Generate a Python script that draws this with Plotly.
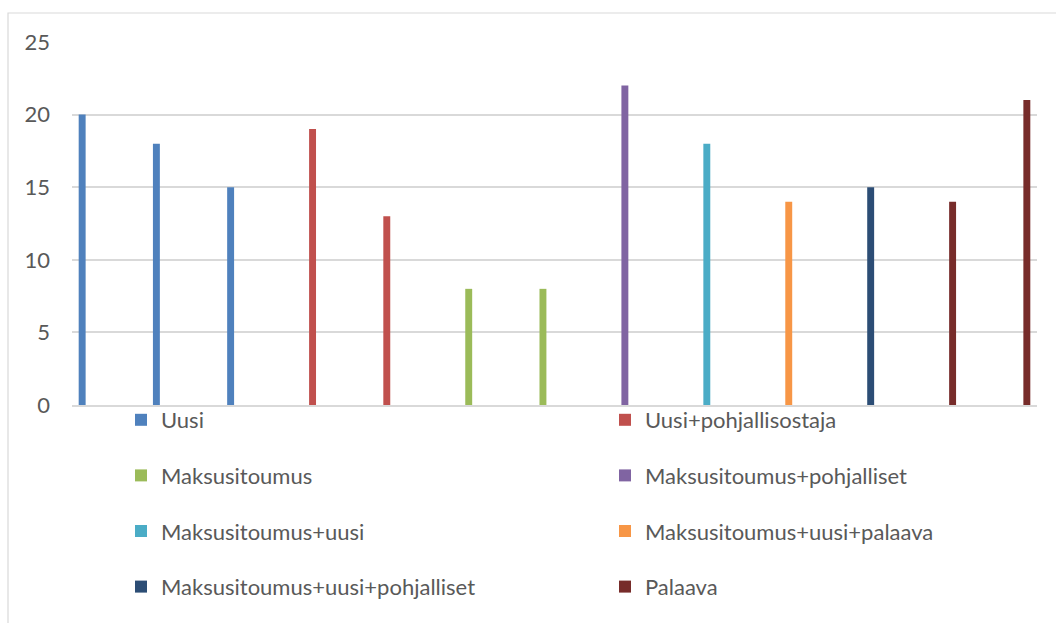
import plotly.graph_objects as go

# Thirteen customer groups along the category axis (labels hidden)
categories = [str(i) for i in range(1, 14)]

# Counts per series; None where a series has no bar in that group
uusi = [20, 18, 15, None, None, None, None, None, None, None, None, None, None]
uusi_pohjallisostaja = [None, None, None, 19, 13, None, None, None, None, None, None, None, None]
maksusitoumus = [None, None, None, None, None, 8, 8, None, None, None, None, None, None]
maksusitoumus_pohjalliset = [None, None, None, None, None, None, None, 22, None, None, None, None, None]
maksusitoumus_uusi = [None, None, None, None, None, None, None, None, 18, None, None, None, None]
maksusitoumus_uusi_palaava = [None, None, None, None, None, None, None, None, None, 14, None, None, None]
maksusitoumus_uusi_pohjalliset = [None, None, None, None, None, None, None, None, None, None, 15, None, None]
palaava = [None, None, None, None, None, None, None, None, None, None, None, 14, 21]

series = [
    ("Uusi", uusi, "#4F81BD", "legend"),
    ("Uusi+pohjallisostaja", uusi_pohjallisostaja, "#C0504D", "legend2"),
    ("Maksusitoumus", maksusitoumus, "#9BBB59", "legend"),
    ("Maksusitoumus+pohjalliset", maksusitoumus_pohjalliset, "#8064A2", "legend2"),
    ("Maksusitoumus+uusi", maksusitoumus_uusi, "#4BACC6", "legend"),
    ("Maksusitoumus+uusi+palaava", maksusitoumus_uusi_palaava, "#F79646", "legend2"),
    ("Maksusitoumus+uusi+pohjalliset", maksusitoumus_uusi_pohjalliset, "#2C4D75", "legend"),
    ("Palaava", palaava, "#772C2A", "legend2"),
]

W, H = 1056, 623
ML, MR, MT, MB = 72, 19, 42, 218
PW, PH = W - ML - MR, H - MT - MB
FONT = "Lato"
TEXT = "#595959"
GRID = "#D9D9D9"

fig = go.Figure()
for name, vals, color, leg in series:
    fig.add_trace(go.Bar(
        x=categories, y=vals, name=name, marker_color=color,
        marker_line_width=0, legend=leg, legendgroup=name,
    ))


def px_x(p):
    return (p - ML) / PW


def px_y(p):
    return (H - MB - p) / PH


legend_common = dict(
    orientation="v", yanchor="top", xanchor="left",
    font=dict(family=FONT, size=22, color=TEXT),
    tracegroupgap=24, bgcolor="rgba(0,0,0,0)", borderwidth=0,
)

fig.update_layout(
    width=W, height=H,
    margin=dict(l=ML, r=MR, t=MT, b=MB, pad=0, autoexpand=False),
    paper_bgcolor="white", plot_bgcolor="white",
    font=dict(family=FONT, size=22, color=TEXT),
    barmode="group", bargap=0.17, bargroupgap=0.1,
    showlegend=True,
    legend=dict(x=px_x(121), y=px_y(399), **legend_common),
    legend2=dict(x=px_x(605), y=px_y(399), **legend_common),
    xaxis=dict(
        type="category", showticklabels=False, showgrid=False,
        showline=True, linecolor=GRID, linewidth=1.5, ticks="",
        range=[-0.5, len(categories) - 0.5],
    ),
    yaxis=dict(
        range=[0, 25], tick0=0, dtick=5, showgrid=True, gridcolor=GRID,
        gridwidth=1.5, zeroline=False, showline=False, ticks="",
        ticklabelstandoff=21,
        tickfont=dict(family=FONT, size=22, color=TEXT),
    ),
    shapes=[dict(
        type="rect", xref="paper", yref="paper", layer="below",
        x0=px_x(8), x1=px_x(W + 20), y0=px_y(H + 20), y1=px_y(13),
        line=dict(color=GRID, width=1.2), fillcolor="rgba(0,0,0,0)",
    )],
)

fig.write_html("out.html")
